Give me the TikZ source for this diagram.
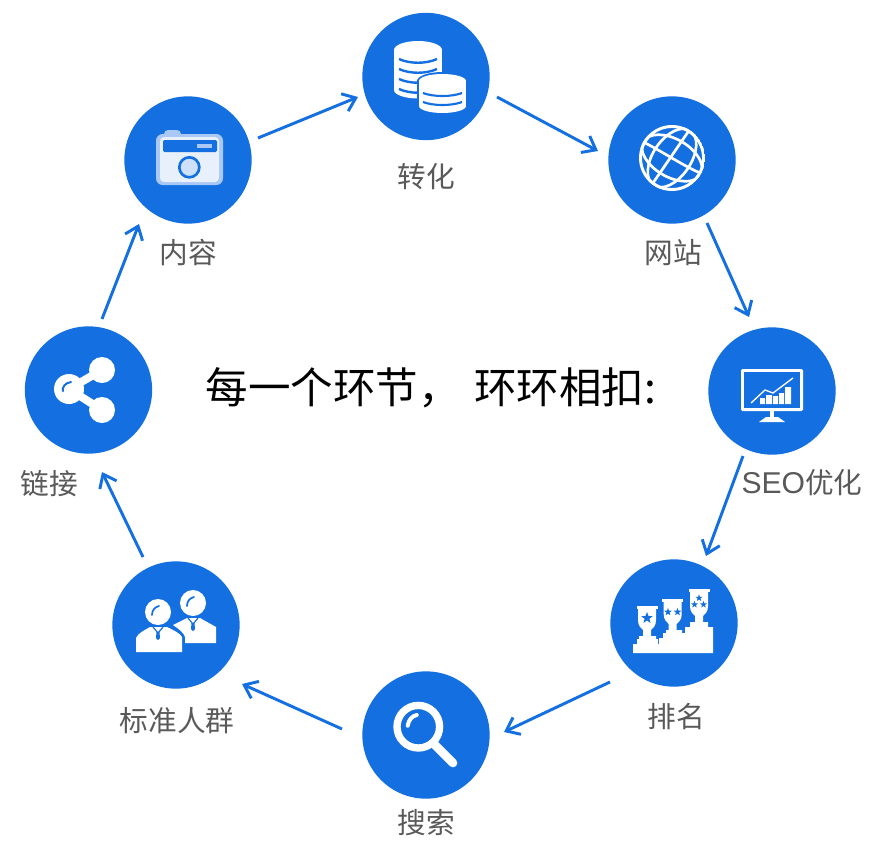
\documentclass[tikz,border=0pt]{standalone}
\usepackage{fontspec}
\setmainfont{Noto Sans CJK SC}
\newfontfamily\latinfont[Scale=1.05]{Liberation Sans}
\usetikzlibrary{arrows.meta}
\definecolor{ringblue}{HTML}{1470E0}
\definecolor{labelgray}{HTML}{595959}
\definecolor{camerapale}{HTML}{E8F0FC}
\definecolor{cameraedge}{HTML}{A9C8F5}
\definecolor{lenspale}{HTML}{CFE0FA}
\tikzset{
  stage/.style={circle, fill=ringblue, minimum size=95.5pt, inner sep=0pt, outer sep=0pt},
  stagelabel/.style={text=labelgray, font=\fontsize{21.5}{24}\selectfont, inner sep=0pt},
  flow/.style={-{Straight Barb[length=9pt,width=14pt,line width=2.2pt]}, ringblue, line width=2.2pt}
}
\newcommand{\iconstar}[3]{\fill[ringblue] (#1,#2) +(-90:#3) -- +(-54:.42*#3) -- +(-18:#3) -- +(18:.42*#3) -- +(54:#3) -- +(90:.42*#3) -- +(126:#3) -- +(162:.42*#3) -- +(198:#3) -- +(234:.42*#3) -- cycle;}
\newcommand{\trophycup}[3]{\fill[white] (#1-10.5,#2) rectangle (#1+10.5,#2+3);
  \fill[white] (#1-9,#2+3) -- (#1+9,#2+3) -- (#1+9,#3-17) .. controls (#1+9,#3-11) and (#1+6,#3-9) .. (#1+4,#3-7) -- (#1+4,#3) -- (#1-4,#3) -- (#1-4,#3-7) .. controls (#1-6,#3-9) and (#1-9,#3-11) .. (#1-9,#3-17) -- cycle;}
\begin{document}
\begin{tikzpicture}[x=0.75pt,y=-0.75pt]
  \useasboundingbox (0,0) rectangle (870,864);
  %circles
  \node[stage] (zhuanhua) at (426,76.5) {};
  \node[stage] (wangzhan) at (672,160) {};
  \node[stage] (seo) at (772,391) {};
  \node[stage] (paiming) at (674,623) {};
  \node[stage] (sousuo) at (426,735) {};
  \node[stage] (renqun) at (176,625) {};
  \node[stage] (lianjie) at (88.5,390) {};
  \node[stage] (neirong) at (188,160) {};
  %labels
  \node[stagelabel] (lzhuanhua) at (426,177) {转化};
  \node[stagelabel] (lwangzhan) at (673,253) {网站};
  \node[stagelabel] (lseo) at (802,483) {{\latinfont SEO}优化};
  \node[stagelabel] (lpaiming) at (676,717) {排名};
  \node[stagelabel] (lsousuo) at (426,823) {搜索};
  \node[stagelabel] (lrenqun) at (177,721) {标准人群};
  \node[stagelabel] (llianjie) at (49,484) {链接};
  \node[stagelabel] (lneirong) at (188,253) {内容};
  \node[font=\fontsize{31.9}{34}\selectfont, inner sep=0pt] (title) at (431,388) {每一个环节，\hspace{10pt}环环相扣:};
  %arrows
  \draw[flow] ([shift={(70,-22)}]neirong.center) -- ([shift={(-68,20.5)}]zhuanhua.center);
  \draw[flow] ([shift={(71,20.5)}]zhuanhua.center) -- ([shift={(-74,-9)}]wangzhan.center);
  \draw[flow] ([shift={(35,63)}]wangzhan.center) -- ([shift={(-23,-74)}]seo.center);
  \draw[flow] ([shift={(-29,65)}]seo.center) -- ([shift={(32,-67)}]paiming.center);
  \draw[flow] ([shift={(-64,59)}]paiming.center) -- ([shift={(78,-3)}]sousuo.center);
  \draw[flow] ([shift={(-84,-6)}]sousuo.center) -- ([shift={(66,59)}]renqun.center);
  \draw[flow] ([shift={(-33,-68)}]renqun.center) -- ([shift={(13.5,82)}]lianjie.center);
  \draw[flow] ([shift={(13.5,-71)}]lianjie.center) -- ([shift={(-49,64)}]neirong.center);
  %camera
  \fill[cameraedge, rounded corners=3pt] (164,130) rectangle (181,140);
  \fill[cameraedge, rounded corners=5pt] (156,134) rectangle (223,185);
  \fill[camerapale, rounded corners=3pt] (160,137) rectangle (219,182);
  \fill[ringblue, rounded corners=1pt] (163,140) rectangle (217,152);
  \fill[cameraedge] (197,144) rectangle (212,148);
  \filldraw[fill=lenspale, draw=ringblue, line width=2pt] (189.3,167.3) circle (10);
  %coins
  \fill[white] (394,50) rectangle (442,90);
  \fill[white] (418,50) ellipse (24 and 9);
  \fill[white] (418,90) ellipse (24 and 8.5);
  \foreach \y in {59,69,79,89}
    \draw[ringblue, line width=1.8pt] (399,\y) .. controls (410,\y+5) and (426,\y+5) .. (437,\y);
  \fill[ringblue] (417,81) rectangle (468,106);
  \fill[ringblue] (442.5,81) ellipse (25.5 and 9);
  \fill[ringblue] (442.5,106) ellipse (25.5 and 9);
  \fill[white] (419,81) rectangle (466,106);
  \fill[white] (442.5,81) ellipse (23.5 and 7);
  \fill[white] (442.5,106) ellipse (23.5 and 7);
  \foreach \y in {93,102}
    \draw[ringblue, line width=1.6pt] (423,\y) .. controls (433,\y+4) and (452,\y+4) .. (462,\y);
  %globe
  \begin{scope}
    \clip (672,158) circle (33);
    \draw[white, line width=2.2pt] (672,158) circle (31.5);
    \draw[white, line width=2pt, rotate around={-30:(672,158)}] (672,158) ellipse (33 and 19);
    \draw[white, line width=2pt, rotate around={56:(672,158)}] (672,158) ellipse (33 and 19);
    \draw[white, line width=2pt] (653,183) -- (688,132);
    \draw[white, line width=2pt] (643,142) .. controls (660,150) and (680,164) .. (700,173);
  \end{scope}
  %monitor
  \fill[white, rounded corners=1pt] (741,369) rectangle (803,411);
  \fill[ringblue] (744,372) rectangle (800,408);
  \fill[white] (770,411) rectangle (774,418);
  \fill[white] (766,417) -- (778,417) -- (785,422) -- (759,422) -- cycle;
  \fill[white] (760,398) rectangle (765,404) (766,395) rectangle (772,404) (773,396) rectangle (778,404) (779,393) rectangle (784,404) (785,387) rectangle (791,404);
  \draw[white, line width=1pt] (751,403) -- (765,390) -- (773,393) -- (793,378);
  %trophies
  \fill[white] (633,653) -- (633,644) -- (637,644) -- (637,639) -- (639,639) -- (639,636) -- (656,636) -- (656,639) -- (658,639) -- (658,644) -- (659,644) -- (659,638) -- (663,638) -- (663,633) -- (666,633) -- (666,630) -- (682,630) -- (682,633) -- (685,633) -- (685,627) -- (690,627) -- (690,622) -- (708,622) -- (708,627) -- (713,627) -- (713,653) -- cycle;
  \trophycup{647}{606}{637}
  \trophycup{672.7}{599}{631}
  \trophycup{699}{589}{623}
  \iconstar{647}{618}{6}
  \iconstar{668}{612}{4}
  \iconstar{677.5}{612}{4}
  \iconstar{699}{598}{3.7}
  \iconstar{694.5}{604.5}{3.7}
  \iconstar{703.5}{604.5}{3.7}
  %magnifier
  \draw[white, line width=5.5pt] (418.3,726.7) circle (21.3);
  \draw[white, line width=6.5pt, line cap=round] (435,745) -- (453,763);
  \draw[white, line width=3pt, line cap=round] (407.7,725.7) .. controls (408.5,720) and (412,716) .. (416.7,715);
  %people
  \fill[white] (173,625) -- (187,618) -- (200,618) -- (216,627) -- (216,643) -- (185,643) -- (185,637) .. controls (184,633) and (179,629) .. (173,625) -- cycle;
  \fill[white] (136,652) -- (136,638) .. controls (138,633) and (145,630) .. (150,627) -- (167,627) .. controls (173,630) and (180,633) .. (182,637) -- (182,652) -- cycle;
  \draw[ringblue, line width=.9pt] (153,627) -- (158,633) -- (163,627);
  \fill[ringblue] (156.5,632) -- (159.5,632) -- (160,638) -- (158,640) -- (156,638) -- cycle;
  \draw[ringblue, line width=.9pt] (188,618) -- (193,624) -- (198,618);
  \fill[ringblue] (191.5,623) -- (194.5,623) -- (195,629) -- (193,631) -- (191,629) -- cycle;
  \fill[white] (158,612) circle (13);
  \fill[white] (193,603) circle (13);
  \draw[ringblue, line width=1.3pt, line cap=round] (152,615) .. controls (152,610) and (155,607) .. (159,606);
  \draw[ringblue, line width=1.3pt, line cap=round] (187,606) .. controls (187,601) and (190,598) .. (194,597);
  %share
  \draw[white, line width=6pt] (69,389) -- (102,370) (69,389) -- (102,410);
  \fill[white] (69,389) circle (15) (102,370) circle (13) (102,410) circle (13);
  \draw[ringblue, line width=1.5pt, line cap=round] (63,391) .. controls (62,387) and (65,383) .. (71,382);
\end{tikzpicture}
\end{document}
